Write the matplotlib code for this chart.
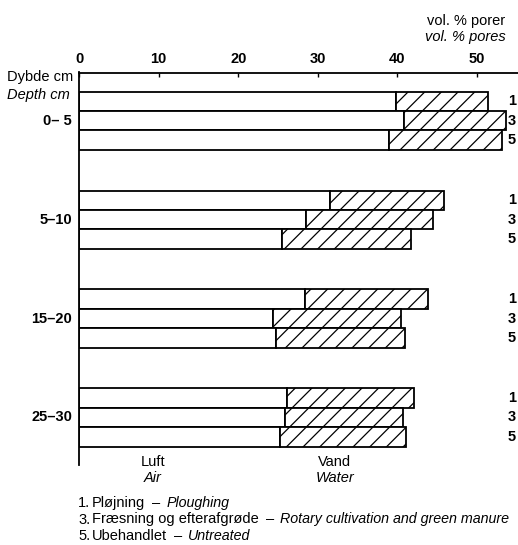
import numpy as np
import matplotlib
matplotlib.use('Agg')
import matplotlib.pyplot as plt
from matplotlib.transforms import blended_transform_factory

plt.rcParams['font.family'] = ['Liberation Sans', 'DejaVu Sans']
plt.rcParams['font.size'] = 10.5
plt.rcParams['hatch.linewidth'] = 0.9

# pore volume per depth layer, treatments 1, 3, 5
depths = ['0– 5', '5–10', '15–20', '25–30']
treatments = ['1', '3', '5']
air = [[39.8, 40.8, 38.9],
       [31.5, 28.5, 25.5],
       [28.4, 24.4, 24.7],
       [26.1, 25.9, 25.3]]
total_pores = [[51.4, 53.6, 53.1],
               [45.9, 44.5, 41.7],
               [43.8, 40.5, 40.9],
               [42.1, 40.7, 41.1]]
xticks = [0, 10, 20, 30, 40, 50]

W, H = 518, 545
fig = plt.figure(figsize=(W / 100, H / 100), dpi=100)


def fx(px):
    return px / W


def fy(py):
    return 1 - py / H


ax = fig.add_axes([fx(79), fy(465), fx(518) - fx(79), fy(72.5) - fy(465)])

group_step = 5.1
for g in range(len(depths)):
    for j in range(len(treatments)):
        y = g * group_step + j + 0.5
        a = air[g][j]
        w = total_pores[g][j] - a
        ax.barh(y, a, height=1, left=0, color='white', edgecolor='black', linewidth=1.3)
        ax.barh(y, w, height=1, left=a, color='white', edgecolor='black', linewidth=1.3,
                hatch='//')

ax.set_xlim(0, 55.15)
ax.set_ylim(3 * group_step + 3 + 0.95, -0.99)

ax.spines['right'].set_visible(False)
ax.spines['bottom'].set_visible(False)
ax.spines['left'].set_linewidth(1.3)
ax.spines['top'].set_linewidth(1.3)
ax.xaxis.set_ticks_position('top')
ax.set_xticks(xticks)
ax.set_xticklabels([str(t) for t in xticks], fontsize=10.5, fontweight='bold')
ax.tick_params(axis='x', direction='in', length=3, width=1, pad=5)
ax.set_yticks([])

# depth labels on the left, treatment numbers on the right
lab_tr = blended_transform_factory(fig.transFigure, ax.transData)
for g, d in enumerate(depths):
    ax.text(fx(72), g * group_step + 1.5, d, transform=lab_tr, ha='right', va='center',
            fontweight='bold')
    for j, t in enumerate(treatments):
        ax.text(fx(512), g * group_step + j + 0.5, t, transform=lab_tr, ha='center',
                va='center', fontweight='bold')

fig.text(fx(73), fy(77), 'Dybde cm', ha='right', va='center')
fig.text(fx(70), fy(95), 'Depth cm', ha='right', va='center', style='italic')
fig.text(fx(505), fy(21), 'vol. % porer', ha='right', va='center')
fig.text(fx(506), fy(37), 'vol. % pores', ha='right', va='center', style='italic')

fig.text(fx(153), fy(462), 'Luft', ha='center', va='center')
fig.text(fx(153), fy(478), 'Air', ha='center', va='center', style='italic')
fig.text(fx(335), fy(462), 'Vand', ha='center', va='center')
fig.text(fx(335), fy(478), 'Water', ha='center', va='center', style='italic')

# key to the treatment numbers, normal + italic on one line
key = [('1.', 'Pløjning', 'Ploughing'),
       ('3.', 'Fræsning og efterafgrøde', 'Rotary cultivation and green manure'),
       ('5.', 'Ubehandlet', 'Untreated')]
renderer = fig.canvas.get_renderer()
for i, (num, dk, en) in enumerate(key):
    y = fy(503 + 16.5 * i)
    fig.text(fx(78), y, num, va='center')
    x = fx(92)
    for s, st, gap in [(dk, 'normal', 7), ('–', 'normal', 6), (en, 'italic', 0)]:
        t = fig.text(x, y, s, va='center', style=st, fontsize=10.5 if st == 'normal' else 10.3)
        bb = t.get_window_extent(renderer)
        x = fx(bb.x1 + gap)

fig.savefig('out.png', dpi=100)
